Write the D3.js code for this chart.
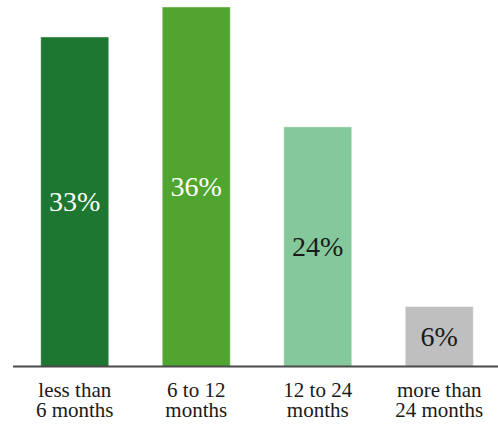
<!DOCTYPE html>
<html>
<head>
<meta charset="utf-8">
<script src="https://cdn.jsdelivr.net/npm/d3@7"></script>
</head>
<body style="margin:0">
<svg id="chart" width="498" height="424" style="display:block;font-family:Tinos,'Times New Roman',serif"></svg>
<script>
// Share of respondents by duration
const categories = ["less than 6 months", "6 to 12 months", "12 to 24 months", "more than 24 months"];
const labelLines = [["less than", "6 months"], ["6 to 12", "months"], ["12 to 24", "months"], ["more than", "24 months"]];
const values = [33, 36, 24, 6];
const barColors = ["#1e7730", "#4fa52f", "#85c89b", "#bfbfbf"];
const valueColors = ["#ffffff", "#ffffff", "#1a1a1a", "#1a1a1a"];

const svg = d3.select("#chart");
const baseY = 366.5;

const x = d3.scaleBand()
  .domain(categories)
  .range([14, 500])
  .paddingInner(0.44)
  .paddingOuter(0.22);

const y = d3.scaleLinear()
  .domain([0, 36.7])
  .range([baseY, 0]);

// bars
svg.append("g").selectAll("rect")
  .data(values)
  .join("rect")
  .attr("x", (d, i) => x(categories[i]))
  .attr("y", d => y(d))
  .attr("width", x.bandwidth())
  .attr("height", d => baseY - y(d))
  .attr("fill", (d, i) => barColors[i])
  .attr("stroke", "rgba(255,255,255,0.45)")
  .attr("stroke-width", 1);

// value labels centred in each bar
svg.append("g").selectAll("text")
  .data(values)
  .join("text")
  .attr("x", (d, i) => x(categories[i]) + x.bandwidth() / 2)
  .attr("y", d => (y(d) + baseY) / 2 + 9.5)
  .attr("text-anchor", "middle")
  .attr("font-family", "Times New Roman")
  .attr("font-size", 28)
  .attr("fill", (d, i) => valueColors[i])
  .text(d => d + "%");

// baseline
svg.append("line")
  .attr("x1", 13).attr("x2", 498)
  .attr("y1", baseY).attr("y2", baseY)
  .attr("stroke", "#4a4a4a")
  .attr("stroke-width", 2);

// category labels, one text per line
const rows = [];
labelLines.forEach((lines, i) => lines.forEach((line, j) => rows.push({ cat: categories[i], line, j })));
svg.append("g").selectAll("text")
  .data(rows)
  .join("text")
  .attr("x", d => x(d.cat) + x.bandwidth() / 2)
  .attr("y", d => 396.5 + d.j * 20.5)
  .attr("text-anchor", "middle")
  .attr("font-family", "Times New Roman")
  .attr("font-size", 21)
  .attr("fill", "#1a1a1a")
  .text(d => d.line);
</script>
</body>
</html>
